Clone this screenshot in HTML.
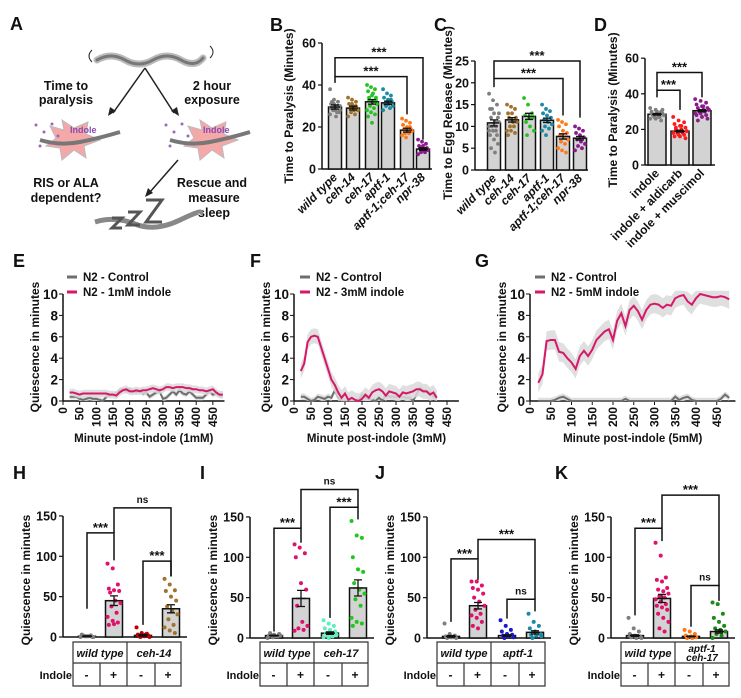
<!DOCTYPE html>
<html><head><meta charset="utf-8"><style>
body{margin:0;background:#fff}
svg{display:block;font-family:"Liberation Sans",Arial,sans-serif}
text{font-weight:bold;fill:#111}
</style></head><body>
<svg id="fig" width="741" height="698" viewBox="0 0 741 698" xmlns="http://www.w3.org/2000/svg">
<g id="panelA">
<text x="10" y="30" font-size="18">A</text>
<path d="M97,60 q14,-8 28,0 t28,0 t28,0 t22,-2" stroke="#bbb" stroke-width="7" fill="none" stroke-linecap="round"/>
<path d="M97,60 q14,-8 28,0 t28,0 t28,0 t22,-2" stroke="#777" stroke-width="3" fill="none" stroke-linecap="round"/>
<path d="M92,50 q-6,6 0,12 M210,46 q6,6 0,12" stroke="#222" fill="none"/>
<text x="66" y="90" font-size="12.5" text-anchor="middle">Time to</text>
<text x="66" y="104" font-size="12.5" text-anchor="middle">paralysis</text>
<text x="212" y="90" font-size="12.5" text-anchor="middle">2 hour</text>
<text x="212" y="104" font-size="12.5" text-anchor="middle">exposure</text>
<path d="M145,68 L113,113 M145,68 L174,113" stroke="#222" stroke-width="1.5"/>
<path d="M108,116 l2,-9 6,4z M179,116 l-2,-9 -6,4z" fill="#222"/>
<polygon points="62,120 74,128 88,122 86,134 100,140 84,146 86,158 74,150 62,160 60,148 46,146 56,138 50,126 64,130" fill="#f4a8a8" stroke="#bbb"/>
<polygon points="200,120 212,128 226,122 224,134 238,140 222,146 224,158 212,150 200,160 198,148 184,146 194,138 188,126 202,130" fill="#f4a8a8" stroke="#bbb"/>
<path d="M40,140 q20,6 40,2 t40,-10" stroke="#777" stroke-width="4" fill="none"/>
<path d="M170,140 q20,6 40,2 t40,-10" stroke="#777" stroke-width="4" fill="none"/>
<text x="70" y="133" font-size="9" style="fill:#8a4ab0">Indole</text>
<text x="203" y="133" font-size="9" style="fill:#8a4ab0">Indole</text>
<g fill="#9a6ab8"><circle cx="36" cy="125" r="1.5"/><circle cx="44" cy="132" r="1.5"/><circle cx="52" cy="124" r="1.5"/><circle cx="40" cy="146" r="1.5"/><circle cx="58" cy="136" r="1.5"/><circle cx="166" cy="125" r="1.5"/><circle cx="174" cy="132" r="1.5"/><circle cx="182" cy="124" r="1.5"/><circle cx="170" cy="146" r="1.5"/><circle cx="188" cy="136" r="1.5"/></g>
<text x="66" y="187" font-size="12.5" text-anchor="middle">RIS or ALA</text>
<text x="66" y="202" font-size="12.5" text-anchor="middle">dependent?</text>
<text x="212" y="187" font-size="12.5" text-anchor="middle">Rescue and</text>
<text x="214" y="202" font-size="12.5" text-anchor="middle">measure</text>
<text x="214" y="217" font-size="12.5" text-anchor="middle">sleep</text>
<path d="M178,160 L150,192" stroke="#222" stroke-width="1.5"/><path d="M145,197 l3,-9 5,5z" fill="#222"/>
<path d="M95,222 q20,-6 40,2 t45,-4 t20,-6" stroke="#888" stroke-width="5" fill="none"/>
<path d="M112,218 h10 l-10,10 h10 M128,212 h12 l-12,13 h12 M146,200 h16 l-16,22 h16" stroke="#555" stroke-width="3" fill="none"/>
</g>
<g id="charts"></g>
</svg>
<script>
// ---------- Panel B data ----------
const bCats=["wild type","ceh-14","ceh-17","aptf-1","aptf-1;ceh-17","npr-38"];
const bMeans=[29.5,29,32,31.5,18.5,9.5];
const bSems=[1,0.9,1.1,0.8,0.9,0.6];
const bPts=[[38,33,32,31,30,30,29,29,28,28,27,26,31,30,29,28,27,32,25,30],[34,33,32,31,30,29,29,28,28,27,26,25,31,30],[40,39,38,37,35,34,33,32,31,30,29,28,27,26,25,22,33,34,36],[38,36,35,34,33,32,31,31,30,30,29,28,32,33],[24,23,22,21,20,19,19,18,18,17,17,16,15,20,21],[14,13,12,11,11,10,10,9,9,8,8,7,10,9]];
const bTicks=[0,20,40,60];
// ---------- Panel C data ----------
const cMeans=[10.8,11.5,12.3,11.4,7.7,7.3];
const cSems=[0.7,0.5,0.7,0.5,0.6,0.4];
const cPts=[[17.5,16,15,14,13,12,12,11,11,10,10,9,9,8,8,7,6,5,4,13,14,9,10],[15,14.5,14,13,13,12,12,11,11,10,10,9,9,8.5,8],[16.5,15,13,12.5,12,12,11,10,9,8],[15,14,13.5,13,12.5,12,11.5,11,10.5,10,9.5,9,8],[11.5,11,10.5,10,9,8.5,8,7.5,7,6.5,6,5,4.5,4],[10,9.5,9,8.5,8,7.5,7,6.5,6,5.5,5,4.5]];
const cTicks=[0,5,10,15,20,25];
// ---------- Panel D data ----------
const dCats=["indole","indole + aldicarb","indole + muscimol"];
const dMeans=[28.5,19,30.5];
const dSems=[0.5,0.5,0.6];
const dPts=[[32,31,30,30,29,29,28,28,28,27,27,26,26,25,29,30,31,28,27],[27,25,24,23,22,21,20,20,19,19,18,18,17,17,16,16,15,21,22,19,18],[37,36,35,34,33,32,32,31,31,30,30,29,29,28,28,27,26,25,33,31,30]];
const dTicks=[0,20,40,60];
// ---------- Panels H-K data ----------
const hMeans=[1,45,2,35];const hSems=[0.5,6,1,5];
const hPts=[[0,1,2,3,1,0,2,1,0,1],[91,85,65,60,58,57,55,45,42,38,30,25,20,18,15,16],[12,5,4,3,2,2,1,1,0,0,3],[72,65,58,57,50,45,38,32,28,22,15,12,8,5]];
const iMeans=[3,49,6,62];const iSems=[0.5,10,1.5,10];
const iPts=[[0,1,2,3,4,5,6,2,3],[116,112,105,100,68,60,40,20,15,12,10,9],[22,18,15,12,10,8,6,5,4,3,2,1,0],[145,127,124,100,85,82,68,60,55,48,40,25,20,18,15]];
const jMeans=[2,40,3,7];const jSems=[1,4,1,2];
const jPts=[[18,5,3,2,1,0,0,1],[70,70,65,62,60,55,50,45,40,35,30,28,25,20,15,12],[22,15,10,8,5,4,3,2,1,0],[30,20,15,12,8,5,4,3,2,0]];
const kMeans=[3,49,2,8];const kSems=[1,5,0.5,2];
const kPts=[[25,12,8,5,3,2,1,0,0],[118,102,75,72,70,62,60,58,55,52,50,48,45,42,40,38,35,30,25,20,12,8],[10,8,5,3,2,1,0,0],[44,42,30,25,20,15,12,10,8,5,3,0]];
const qTicks=[0,50,100,150];
// ---------- Line panels data (minutes 20..480 step 10) ----------
const minutes=[20,30,40,50,60,70,80,90,100,110,120,130,140,150,160,170,180,190,200,210,220,230,240,250,260,270,280,290,300,310,320,330,340,350,360,370,380,390,400,410,420,430,440,450,460,470,480];
const eIndole=[0.8,0.8,0.7,0.6,0.7,0.7,0.7,0.7,0.7,0.7,0.7,0.7,0.6,0.6,0.5,0.8,1.0,1.1,0.9,0.9,1.0,0.9,1.0,1.0,1.1,1.2,1.1,1.0,1.1,1.3,1.3,1.2,1.3,1.3,1.3,1.2,1.2,1.1,1.1,1.0,1.0,0.9,1.0,1.1,0.8,0.6,0.6];
const eCtrl=[0.4,0.4,0.4,0.2,0.1,0.2,0.3,0.2,0.2,0.1,0.0,0.4,0.6,0.6,0.7,1.0,1.1,0.9,1.1,0.9,0.8,1.0,0.7,0.8,0.4,0.6,0.8,0.9,0.2,0.3,0.6,0.9,0.6,1.0,0.7,0.6,0.9,0.6,0.3,0.3,0.3,0.6,0.9,0.6,0.7,0.5,0.5];
const fIndole=[2.8,3.5,5.5,6.0,6.1,6.0,5.0,4.0,3.0,2.0,1.5,0.8,0.3,0.7,0.1,0.3,0.1,0.0,0.2,0.6,0.3,0.8,1.0,1.1,0.9,0.5,0.9,0.8,0.7,0.4,0.8,0.7,0.8,0.9,1.1,1.1,0.9,0.9,0.6,0.8,0.3];
const fCtrl=[0.4,0.4,0.2,0.0,0.1,0.4,0.3,0.2,0.4,0.3,1.0,0.3,0.0,0.0,0.0,0.0,0.0,0.1,0.6,0.3,0.2,0.1,0.0,0.3,0.0,0.6,0.4,0.4,0.4,0.4,0.4,0.3,0.3,0.0,0.6,1.2,1.0,0.9,0.8,0.4,0.3];
const gIndole=[1.7,2.5,5.6,5.7,5.7,4.6,4.5,4.0,3.6,3.0,4.2,4.7,4.2,4.8,5.7,6.1,6.5,6.7,5.7,7.5,8.2,7.0,8.5,8.9,8.4,7.6,8.5,9.0,9.1,9.0,8.7,9.0,8.9,9.6,9.8,9.9,9.3,9.0,9.6,10.0,9.9,9.8,9.7,9.7,9.8,9.7,9.5];
const gCtrl=[0,0,0,0,0.1,0.3,0.4,0.2,0,0,0,0,0,0,0,0,0,0,0,0,0,0.2,0,0,0,0,0,0,0,0,0,0,0,0.4,0.1,0.3,0.4,0.1,0,0,0,0,0,0,0.2,0.6,0.3];
const xTicksLine=[0,50,100,150,200,250,300,350,400,450];
const yTicksLine=[0,2,4,6,8,10];

const NS="http://www.w3.org/2000/svg";
const root=document.getElementById("charts");
function mk(tag,attrs,parent,txt){const e=document.createElementNS(NS,tag);for(const k in attrs)e.setAttribute(k,attrs[k]);if(txt!==undefined)e.textContent=txt;(parent||root).appendChild(e);return e;}

function barPanel(o){
  const g=mk("g",{});
  
  
  const Y=v=>o.y0-v*o.k;
  mk("line",{x1:o.ax,y1:Y(o.ticks[o.ticks.length-1]),x2:o.ax,y2:o.y0,stroke:"#111","stroke-width":1.5},g);
  mk("line",{x1:o.ax,y1:o.y0,x2:o.xEnd,y2:o.y0,stroke:"#111","stroke-width":1.5},g);
  o.ticks.forEach(t=>{mk("line",{x1:o.ax-4,x2:o.ax,y1:Y(t),y2:Y(t),stroke:"#111","stroke-width":1.2},g);
    const tl=mk("text",{x:o.ax-6,y:Y(t)+4.5,"font-size":o.tf||12.5,"text-anchor":"end"},g,t);
    
    });
  const yt=mk("text",{transform:`translate(${o.ax-o.titleOff},${o.titleY}) rotate(-90)`,"font-size":o.titleF||12,"text-anchor":"middle"},g,o.title);
  
  
  o.means.forEach((m,i)=>{
    const cx=o.ax+o.cs[i],w=o.bw;
    const bar=mk("rect",{x:cx-w/2,y:Y(m),width:w,height:o.y0-Y(m),fill:"#d3d3d3",stroke:"#111","stroke-width":1.5},g);
    
    
    const pts=o.pts[i];
    pts.forEach((p,j)=>{const jit=(((j*37)%11)-5)/5*(w*0.38);
      const c=mk("circle",{cx:cx+jit,cy:Y(p),r:o.r||1.9,fill:o.colors[i]},g);
      
      });
    const s=o.sems[i];
    mk("path",{d:`M${cx},${Y(m+s)}V${Y(m-s)}M${cx-4},${Y(m+s)}h8M${cx-4},${Y(m-s)}h8M${cx-5},${Y(m)}h10`,stroke:"#111","stroke-width":1.3,fill:"none"},g);
    if(o.cats){const lt=mk("text",{transform:`translate(${cx+3},${o.y0+9}) rotate(-45)`,"font-size":12,"text-anchor":"end","font-style":o.italic?"italic":"normal"},g,o.cats[i]);
      
      }
  });
  o.brackets.forEach(b=>{
    const x1=o.ax+o.cs[b[0]],x2=o.ax+o.cs[b[1]];
    mk("path",{d:`M${x1},${Y(b[3])}V${Y(b[2])}H${x2}V${Y(b[4])}`,stroke:"#111","stroke-width":1.5,fill:"none"},g);
    const st=mk("text",{x:(x1+x2)/2,y:Y(b[2])-(b[5]==="ns"?5:1),"font-size":b[5]==="ns"?10:13,"text-anchor":"middle","font-weight":b[5]==="ns"?"normal":"bold"},g,b[5]);
    
    
  });
  const L=mk("text",{x:o.lx,y:o.ly,"font-size":18},g,o.letter);
  
  
  if(o.table){
    const t=o.table,x0=o.ax+10,x1=o.ax+118,c=[o.ax+37,o.ax+64,o.ax+92];
    mk("path",{d:`M${x0},642H${x1}V686H${x0}ZM${x0},663H${x1}M${c[1]},642V686M${c[0]},663V686M${c[2]},663V686`,stroke:"#333","stroke-width":1.2,fill:"none"},g);
    const g1=mk("text",{x:(x0+c[1])/2,y:657,"font-size":11,"text-anchor":"middle","font-style":"italic"},g,t[0]);
    
    if(Array.isArray(t[1])){mk("text",{x:(c[1]+x1)/2,y:652,"font-size":10,"text-anchor":"middle","font-style":"italic"},g,t[1][0]);mk("text",{x:(c[1]+x1)/2,y:661,"font-size":10,"text-anchor":"middle","font-style":"italic"},g,t[1][1]);}
    else{const g2=mk("text",{x:(c[1]+x1)/2,y:657,"font-size":11,"text-anchor":"middle","font-style":"italic"},g,t[1]);}
    const il=mk("text",{x:x0-1,y:679,"font-size":11,"text-anchor":"end","font-weight":"normal"},g,"Indole");
    
    ["-","+","-","+"].forEach((s,i)=>{const cxs=[(x0+c[0])/2,(c[0]+c[1])/2,(c[1]+c[2])/2,(c[2]+x1)/2];mk("text",{x:cxs[i],y:679,"font-size":12,"text-anchor":"middle"},g,s);});
  }
}

const topColors=["#7f7f7f","#a0722e","#22c422","#1b8aa6","#ff7a1a","#8b1a8b"];
barPanel({name:"panel-b-paralysis",letter:"B",lx:270,ly:31,ax:322,y0:169,k:2.1,ticks:bTicks,xEnd:432,cs:[13,31,50,66,85,101],bw:13,means:bMeans,sems:bSems,pts:bPts,colors:topColors,cats:bCats,italic:true,title:"Time to Paralysis (Minutes)",titleOff:29,titleY:106,brackets:[[0,4,44,41,26,"***"],[0,5,53,44,14,"***"]]});
barPanel({name:"panel-c-egg-release",letter:"C",lx:434,ly:31,ax:475,y0:170,k:4.36,ticks:cTicks,xEnd:588,cs:[19,37,54,72,88,105],bw:13,means:cMeans,sems:cSems,pts:cPts,colors:topColors,cats:bCats,italic:true,title:"Time to Egg Release (Minutes)",titleOff:23,titleY:113,brackets:[[0,4,21,19,12.5,"***"],[0,5,25,21,12,"***"]]});
barPanel({name:"panel-d-drugs",letter:"D",lx:594,ly:31,ax:645,y0:165,k:1.78,ticks:dTicks,xEnd:715,cs:[12,35,57],bw:18,means:dMeans,sems:dSems,pts:dPts,colors:["#7f7f7f","#ff1a1a","#8b1a8b"],cats:dCats,italic:false,title:"Time to Paralysis (Minutes)",titleOff:28,titleY:110,brackets:[[0,1,42,38,31,"***"],[0,2,52,42,38,"***"]]});

const cs4=[24,51,80,108];
barPanel({name:"panel-h-ceh14",letter:"H",lx:13,ly:479,ax:63,y0:637,k:0.807,ticks:qTicks,xEnd:187,cs:cs4,bw:17,means:hMeans,sems:hSems,pts:hPts,colors:["#7f7f7f","#e0106b","#c00000","#a0722e"],title:"Quiescence in minutes",titleOff:33,titleY:580,brackets:[[0,1,129,35,95,"***"],[1,3,160,129,75,"ns"],[2,3,94,15,75,"***"]],table:["wild type","ceh-14"],r:2});
barPanel({name:"panel-i-ceh17",letter:"I",lx:200,ly:479,ax:250,y0:638,k:0.807,ticks:qTicks,xEnd:374,cs:cs4,bw:17,means:iMeans,sems:iSems,pts:iPts,colors:["#7f7f7f","#e0106b","#5ef0c0","#1ec81e"],title:"Quiescence in minutes",titleOff:33,titleY:580,brackets:[[0,1,136,8,118,"***"],[1,3,184,136,162,"ns"],[2,3,162,25,147,"***"]],table:["wild type","ceh-17"],r:2});
barPanel({name:"panel-j-aptf1",letter:"J",lx:375,ly:479,ax:427,y0:638,k:0.807,ticks:qTicks,xEnd:551,cs:cs4,bw:17,means:jMeans,sems:jSems,pts:jPts,colors:["#7f7f7f","#e0106b","#1a1acd","#1b8aa6"],title:"Quiescence in minutes",titleOff:33,titleY:580,brackets:[[0,1,98,20,72,"***"],[1,3,122,98,48,"***"],[2,3,48,24,33,"ns"]],table:["wild type","aptf-1"],r:2});
barPanel({name:"panel-k-aptf1-ceh17",letter:"K",lx:555,ly:479,ax:611,y0:638,k:0.807,ticks:qTicks,xEnd:735,cs:cs4,bw:17,means:kMeans,sems:kSems,pts:kPts,colors:["#7f7f7f","#e0106b","#ff7a1a","#1a8a1a"],title:"Quiescence in minutes",titleOff:33,titleY:580,brackets:[[0,1,136,28,120,"***"],[1,3,177,136,64,"***"],[2,3,65,14,46,"ns"]],table:["wild type",["aptf-1","ceh-17"]],r:2});

function linePanel(o){
  const g=mk("g",{});
  
  
  const X=v=>o.x0+v*o.kx, Y=v=>401-v*10.7;
  mk("line",{x1:o.x0,y1:Y(10),x2:o.x0,y2:401,stroke:"#111","stroke-width":1.5},g);
  mk("line",{x1:o.x0,y1:401,x2:X(o.xMax),y2:401,stroke:"#111","stroke-width":1.5},g);
  yTicksLine.forEach(t=>{mk("line",{x1:o.x0-4,x2:o.x0,y1:Y(t),y2:Y(t),stroke:"#111"},g);
    const tl=mk("text",{x:o.x0-5,y:Y(t)+5,"font-size":13.5,"text-anchor":"end"},g,t);
    });
  xTicksLine.forEach(t=>{mk("line",{x1:X(t),x2:X(t),y1:401,y2:405,stroke:"#111"},g);
    const tl=mk("text",{transform:`translate(${X(t)+4},407) rotate(-90)`,"font-size":12,"text-anchor":"end"},g,t);
    });
  const yt=mk("text",{transform:`translate(${o.x0-24},347) rotate(-90)`,"font-size":12,"text-anchor":"middle"},g,"Quiescence in minutes");
  
  const xt=mk("text",{x:(o.x0+X(o.xMax))/2,y:442,"font-size":11.5,"text-anchor":"middle"},g,o.xTitle);
  
  [[o.ctrl,"#6e6e6e",o.bc],[o.ind,"#d6186a",o.bi]].forEach((s,si)=>{
    const vals=s[0];const up=[],dn=[];
    vals.forEach((v,i)=>{up.push(X(minutes[i])+","+Y(Math.min(10.3,v+s[2])));dn.unshift(X(minutes[i])+","+Y(Math.max(0,v-s[2])));});
    mk("polygon",{points:up.concat(dn).join(" "),fill:"#d9d9d9",opacity:0.85},g);
    const ln=mk("polyline",{points:vals.map((v,i)=>X(minutes[i])+","+Y(v)).join(" "),fill:"none",stroke:s[1],"stroke-width":2},g);
    
    
  });
  [["N2 - Control","#6e6e6e",281],[o.leg,"#d6186a",296]].forEach(l=>{
    mk("line",{x1:o.x0+o.lg,x2:o.x0+o.lg+10,y1:l[2]-4,y2:l[2]-4,stroke:l[1],"stroke-width":3},g);
    const lt=mk("text",{x:o.x0+o.lg+16,y:l[2],"font-size":11.5},g,l[0]);
    
  });
  const L=mk("text",{x:o.lx,y:267,"font-size":18},g,o.letter);
  
}
linePanel({name:"panel-e-1mm",letter:"E",lx:13,x0:63,kx:0.333,xMax:485,ctrl:eCtrl,ind:eIndole,bc:0.25,bi:0.35,leg:"N2 - 1mM indole",xTitle:"Minute post-indole (1mM)",lg:4});
linePanel({name:"panel-f-3mm",letter:"F",lx:250,x0:294,kx:0.34,xMax:485,ctrl:fCtrl,ind:fIndole,bc:0.3,bi:0.7,leg:"N2 - 3mM indole",xTitle:"Minute post-indole (3mM)",lg:6});
linePanel({name:"panel-g-5mm",letter:"G",lx:475,x0:530,kx:0.415,xMax:495,ctrl:gCtrl,ind:gIndole,bc:0.3,bi:0.9,leg:"N2 - 5mM indole",xTitle:"Minute post-indole (5mM)",lg:5});
</script>
</body></html>
